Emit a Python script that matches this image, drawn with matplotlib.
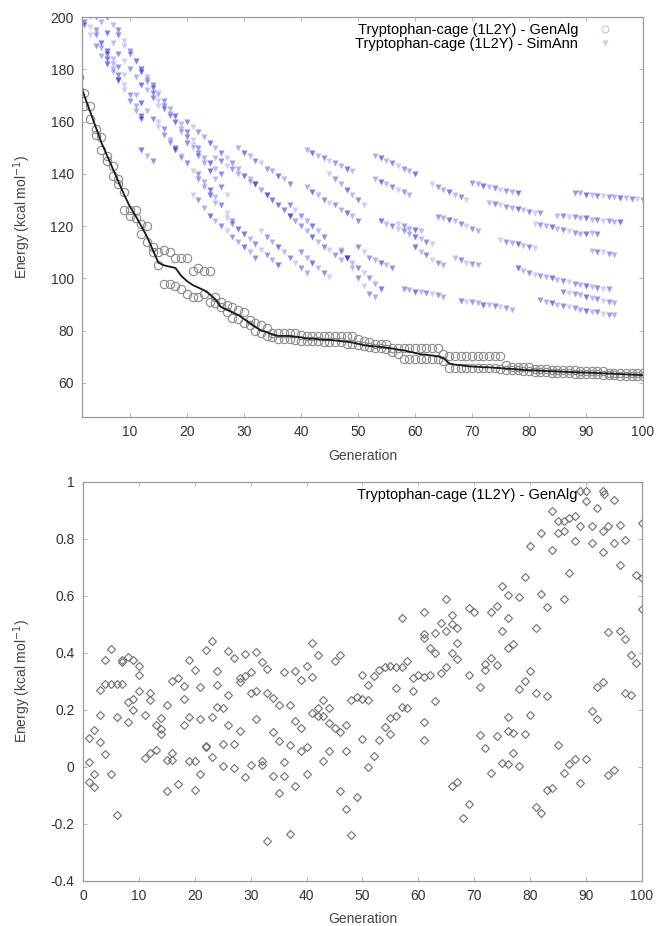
import numpy as np
import matplotlib.pyplot as plt
from matplotlib.lines import Line2D

plt.rcParams['font.family'] = ['Liberation Sans', 'DejaVu Sans']

# ---- top panel: GenAlg population (two circles per generation) and its mean line
gens = np.arange(1, 101)
ga_line = [176, 170, 164, 158, 152, 147, 142, 137, 132, 127.5,
           124, 120, 116, 111, 106, 105, 104.5, 104, 101, 99,
           97.5, 96.5, 95.5, 94, 92, 89, 88, 87, 86, 84.5,
           83, 81.5, 80, 79.5, 78.5, 78, 78, 78, 77.7, 77.5,
           77, 77, 76.8, 76.5, 76.5, 76.3, 76, 75.8, 75.5, 75,
           74.5, 74.2, 74, 73.8, 73.5, 73.2, 72.8, 72.5, 72, 71.5,
           71, 70.8, 70.5, 70.2, 69.5, 67.5, 67, 66.8, 66.5, 66.3,
           66.2, 66, 66, 65.8, 65.7, 65.5, 65.4, 65.2, 65, 64.9,
           64.8, 64.7, 64.6, 64.5, 64.4, 64.3, 64.2, 64.1, 64, 64,
           63.9, 63.8, 63.7, 63.6, 63.5, 63.4, 63.3, 63.2, 63.1, 63]
ga_upper = [177, 171, 166, 157, 154, 147, 143, 138, 133, 126,
            126, 121, 120, 112, 110, 111, 110, 108, 108, 108,
            103, 104, 103, 103, 93, 91, 90, 89, 88, 87,
            84, 83, 82, 81, 79, 79, 79, 79, 79, 78.5,
            78, 78, 78, 78, 78, 78, 78, 78, 78, 77,
            76, 75.5, 75, 75, 75, 73.5, 73.5, 73.5, 73.5, 73.5,
            73.5, 73.5, 73.5, 73.5, 71, 70.5, 70.5, 70.5, 70.5, 70.5,
            70.5, 70.5, 70.5, 70.5, 70.5, 67, 66, 66, 66, 66,
            65.5, 65.5, 65.5, 65, 65, 65, 65, 65, 64.5, 64.5,
            64.5, 64.5, 64.5, 64, 64, 64, 64, 64, 64, 64]
ga_lower = [172, 166, 161, 155, 149, 145, 139, 136, 126, 124,
            123, 117, 114, 110, 105, 98, 98, 97, 96, 94,
            93, 93, 94, 91, 90.5, 89, 87, 85, 84.5, 83,
            82, 80, 79, 78, 77.5, 77, 77, 77, 76.5, 76,
            76, 76, 76, 75.5, 75.5, 75.5, 75.5, 75, 75, 74.5,
            74, 73.8, 73.5, 73.5, 73, 72, 71, 69, 69, 69,
            69, 69, 69, 69, 68.5, 65.7, 65.7, 65.7, 65.7, 65.7,
            65.7, 65.7, 65.7, 65.7, 65.5, 65, 64.8, 64.8, 64.5, 64.5,
            64.3, 64.3, 64.2, 64, 64, 63.8, 63.8, 63.6, 63.5, 63.5,
            63.4, 63.3, 63.2, 63, 63, 62.8, 62.8, 62.6, 62.5, 62.5]

# ---- top panel: SimAnn runs (first generation of each run, then one energy per generation)
sa_start = [1, 2, 3, 4, 5, 6, 8, 19, 11, 22, 13, 15, 27, 20, 31, 21, 25, 37,
            29, 41, 38, 47, 40, 41, 53, 45, 47, 50, 54, 57, 58, 68, 53, 63,
            64, 67, 70, 73, 85, 75, 91, 78, 81, 82, 88, 86, 12, 33, 60]
sa_runs = [
    [200, 198, 196, 193, 190, 187, 184, 181, 178],
    [197, 193, 189, 185, 182, 179, 176],
    [200, 195, 190, 186, 182, 178, 174, 170, 166, 162],
    [200, 198, 194, 190, 186, 183, 180, 177, 174, 172, 169, 166],
    [188, 184, 180, 176, 172, 168, 164, 161],
    [200, 197, 193, 189, 186, 183, 180, 177, 174, 171, 168, 165, 162, 159, 156, 153, 150],
    [195, 191, 187, 183, 179, 175, 171, 168, 165, 162],
    [156, 152, 150, 147, 144, 141, 138, 135, 132],
    [170, 167, 164, 161, 158, 155, 152, 149, 146],
    [140, 137, 134, 131, 128, 125, 122, 119],
    [176, 173, 170, 166, 163, 160, 157, 154, 151, 148, 146, 144, 142, 140],
    [160, 157, 153, 150, 147, 144, 141, 138, 135, 132, 129],
    [123, 121, 119, 117, 115, 113, 111, 109, 107, 105],
    [160, 158, 156, 154, 152, 150, 148, 146, 144, 142],
    [138, 136, 134, 132, 130, 128, 126, 124, 122],
    [132, 130, 127, 124, 122, 120, 118, 116, 114, 112, 110, 108],
    [146, 145, 143, 142, 140, 139, 137, 136, 134, 132, 130],
    [126, 124, 122, 120, 118, 116, 114, 112, 111, 109, 107],
    [150, 148, 147, 145, 144, 142, 141, 139, 138, 136],
    [135, 133, 132, 130, 129, 128, 126, 125, 124, 122],
    [128, 126, 124, 122, 120, 118, 116],
    [110, 108, 106, 104, 102, 100, 98, 96],
    [110, 108, 106, 104, 102, 100.5],
    [149, 148, 147, 146, 145, 144, 143, 142, 141],
    [138, 137, 136, 135, 134, 133, 132],
    [140, 138, 136, 134, 132, 130, 128],
    [111, 108, 104, 100, 97, 94, 93],
    [112, 110, 108, 107, 106, 105, 104],
    [122, 121, 120, 119, 118, 117, 116, 115, 114, 113],
    [121, 120, 119, 118.5, 118],
    [96, 95.5, 95, 95, 94.5, 94, 93.5, 93],
    [91.5, 91, 91, 90.5, 90, 90, 89.5, 89, 88.5, 88],
    [147, 146, 145, 144, 143, 142, 141, 140],
    [136, 135, 134, 133, 132, 131, 130],
    [123.5, 123, 122.5, 122, 121, 120, 119, 118],
    [108, 107, 106, 105.5, 105],
    [136.5, 136, 135.5, 135, 134.5, 134, 133.5, 133, 132.5],
    [129, 128.5, 128, 127.5, 127, 126.5, 126, 125.5, 125, 125],
    [124, 124, 123.5, 123.5, 123, 123, 122.5, 122.5, 122, 122, 121.5, 121.5],
    [114.7, 114, 113.5, 113, 112.5, 112, 111.6],
    [110.5, 110, 110, 109.5, 109],
    [104, 103, 102, 101.5, 101, 100.5, 100, 99.5, 99, 98.5, 98, 97.5, 97, 96.7, 96.5, 96, 95.8],
    [121, 120.5, 120, 119.5, 119, 118.5, 118, 117.5, 117, 117, 117.5, 117],
    [91.7, 91, 90.5, 90, 89.5, 89, 88.5, 88, 87.5, 87, 87, 86.5, 86, 86],
    [132.7, 132.5, 132, 132, 131.7, 131.5, 131.2, 131, 130.8, 130.6, 130.4, 130.2, 130],
    [95, 94.5, 94, 93.5, 93, 92.5, 92, 91.5, 91, 90.5],
    [149, 147, 145],
    [118, 116, 114, 112, 110, 108, 106, 104, 102],
    [112, 110, 109, 107, 106, 105],
]

# ---- bottom panel: GenAlg scatter
bot_gen = [5, 4, 7, 7, 8, 9, 10, 10, 3, 4, 5, 6, 7, 8, 9, 10, 9, 12, 12, 11,
           3, 6, 8, 2, 1, 3, 4, 1, 2, 5, 1, 2, 6, 15, 14, 13, 14, 14, 13, 12,
           11, 16, 15, 16, 17, 15, 16, 17, 18, 18, 19, 20, 21, 22, 23, 24, 24, 24, 25, 19,
           18, 21, 23, 22, 22, 23, 25, 25, 19, 20, 21, 20,
           26, 27, 29, 31, 32, 33, 30, 29, 28, 28, 26, 30, 31, 33, 34, 35, 37, 36, 38, 39,
           40, 41, 41, 42, 45, 46, 26, 28, 31, 27, 27, 29, 30, 32, 32, 34, 35, 37, 38, 39,
           39, 40, 36, 34, 36, 35, 38, 40, 33, 37, 41, 42, 43, 43, 44, 42, 44, 45, 46, 47,
           44, 43, 47, 46, 47, 49, 48, 50, 48, 49, 50, 50,
           57, 61, 65, 69, 70, 73, 74, 75, 76, 76, 66, 64, 63, 65, 66, 67, 75, 61, 61, 62,
           63, 66, 67, 67, 65, 64, 72, 73, 74, 71, 72, 69, 62, 61, 59, 60, 58, 57, 56, 55,
           54, 53, 52, 51, 51, 56, 59, 57, 58, 63, 61, 61, 56, 55, 54, 55, 53, 52, 51, 71,
           72, 74, 73, 75, 76, 66, 67, 69, 68,
           89, 90, 93, 95, 90, 92, 84, 85, 86, 87, 88, 86, 85, 82, 89, 91, 93, 94, 96, 88,
           91, 93, 95, 97, 80, 84, 96, 100, 99, 100, 100, 87, 79, 78, 82, 86, 83, 81, 94, 96,
           97, 98, 99, 77, 76, 80, 79, 78, 81, 83, 92, 93, 97, 98, 76, 80, 76, 77, 79, 91,
           92, 77, 78, 85, 87, 88, 90, 86, 89, 83, 84, 94, 95, 81, 82]
bot_energy = [0.415, 0.376, 0.376, 0.37, 0.385, 0.376, 0.353, 0.322, 0.271, 0.29,
              0.29, 0.29, 0.29, 0.228, 0.24, 0.266, 0.199, 0.259, 0.235, 0.183,
              0.183, 0.174, 0.157, 0.131, 0.102, 0.088, 0.046, 0.018, -0.025, -0.025,
              -0.053, -0.071, -0.17, 0.216, 0.172, 0.148, 0.134, 0.116, 0.061, 0.05,
              0.032, 0.05, 0.025, 0.025, -0.06, -0.085, 0.303, 0.312, 0.283, 0.24,
              0.376, 0.341, 0.279, 0.412, 0.443, 0.336, 0.287, 0.212, 0.207, 0.174,
              0.148, 0.169, 0.174, 0.073, 0.07, 0.035, 0.08, 0.002, 0.022, 0.022,
              -0.025, -0.08,
              0.408, 0.382, 0.396, 0.405, 0.368, 0.344, 0.333, 0.318, 0.312, 0.298,
              0.251, 0.258, 0.267, 0.26, 0.243, 0.216, 0.216, 0.333, 0.338, 0.306,
              0.353, 0.315, 0.435, 0.392, 0.371, 0.394, 0.148, 0.125, 0.169, 0.082,
              -0.004, -0.036, 0.008, 0.022, 0.008, 0.123, 0.09, 0.078, 0.162, 0.137,
              0.055, 0.069, 0.018, -0.033, -0.033, -0.091, -0.068, -0.025, -0.259, -0.235,
              0.19, 0.18, 0.18, 0.236, 0.207, 0.207, 0.154, 0.137, 0.123, 0.148,
              0.057, 0.022, 0.055, -0.085, -0.146, -0.106, -0.237, 0.097, 0.236, 0.247,
              0.24, 0.323,
              0.523, 0.544, 0.588, 0.558, 0.544, 0.544, 0.565, 0.635, 0.605, 0.523,
              0.535, 0.506, 0.471, 0.477, 0.5, 0.486, 0.477, 0.465, 0.453, 0.418,
              0.401, 0.401, 0.436, 0.378, 0.35, 0.33, 0.363, 0.381, 0.358, 0.279,
              0.339, 0.322, 0.322, 0.316, 0.312, 0.322, 0.371, 0.351, 0.351, 0.356,
              0.351, 0.342, 0.318, 0.288, 0.234, 0.276, 0.268, 0.21, 0.207, 0.233,
              0.157, 0.095, 0.18, 0.171, 0.139, 0.116, 0.096, 0.037, -0.001, 0.113,
              0.066, 0.107, -0.021, 0.014, 0.01, -0.066, -0.052, -0.13, -0.18,
              0.967, 0.967, 0.967, 0.938, 0.932, 0.909, 0.897, 0.864, 0.862, 0.874,
              0.88, 0.829, 0.821, 0.821, 0.845, 0.845, 0.827, 0.845, 0.85, 0.792,
              0.786, 0.756, 0.786, 0.797, 0.774, 0.762, 0.707, 0.856, 0.674, 0.663,
              0.553, 0.681, 0.665, 0.595, 0.607, 0.59, 0.56, 0.487, 0.474, 0.478,
              0.45, 0.394, 0.365, 0.43, 0.416, 0.336, 0.301, 0.275, 0.26, 0.249,
              0.28, 0.298, 0.26, 0.254, 0.174, 0.184, 0.125, 0.119, 0.116, 0.195,
              0.168, 0.049, 0.005, 0.078, 0.01, 0.029, 0.029, -0.021, -0.057, -0.079,
              -0.073, -0.029, -0.011, -0.14, -0.16]

label_ga = 'Tryptophan-cage (1L2Y) - GenAlg'
label_sa = 'Tryptophan-cage (1L2Y) - SimAnn'
ylab = 'Energy (kcal mol$^{-1}$)'

fig = plt.figure(figsize=(6.59, 9.26), dpi=100)
ax1 = fig.add_axes([0.1244, 0.5497, 0.8513, 0.4319])
ax2 = fig.add_axes([0.126, 0.0486, 0.848, 0.4309])

# faded blue triangles, shade varies along each run like the scanned original
shades = [0.6, 0.3, 0.5, 0.22, 0.45, 0.35]
for start, vals in zip(sa_start, sa_runs):
    for k, v in enumerate(vals):
        ax1.plot(start + k, v, 'v', color='#2020e6', alpha=shades[(start + k) % 6],
                 ms=5, mec='none')

ax1.plot(gens, ga_upper, 'o', mfc='none', mec='#8a8a8a', ms=6, mew=0.8)
ax1.plot(gens, ga_lower, 'o', mfc='none', mec='#8a8a8a', ms=6, mew=0.8)
ax1.plot(gens, ga_line, '-', color='#1a1a1a', lw=1.3)

ax1.set_xlim(1.6, 100)
ax1.set_ylim(47, 200)
ax1.set_xticks(np.arange(10, 101, 10))
ax1.set_yticks(np.arange(60, 201, 20))

h_ga = Line2D([], [], ls='none', marker='o', mfc='none', mec='#c8c8c8', ms=5, mew=0.8)
h_sa = Line2D([], [], ls='none', marker='v', color='#c8c8f0', ms=5, mec='none')
ax1.legend([h_ga, h_sa], [label_ga, label_sa], loc='upper right',
           bbox_to_anchor=(0.955, 1.0), frameon=False, markerfirst=False,
           fontsize=10.5, handlelength=1.0, handletextpad=1.3,
           labelspacing=0.0, borderaxespad=0.2, borderpad=0.2)

ax2.plot(bot_gen, bot_energy, 'D', mfc='none', mec='#6e6e6e', ms=4.2, mew=0.8)
ax2.set_xlim(0, 100)
ax2.set_ylim(-0.4, 1.0)
ax2.set_xticks(np.arange(0, 101, 10))
yt = [-0.4, -0.2, 0, 0.2, 0.4, 0.6, 0.8, 1.0]
ax2.set_yticks(yt)
ax2.set_yticklabels(['-0.4', '-0.2', '0', '0.2', '0.4', '0.6', '0.8', '1'])
h_d = Line2D([], [], ls='none', marker='D', mfc='none', mec='#6e6e6e', ms=4.2, mew=0.8)
ax2.legend([h_d], [label_ga], loc='upper right', bbox_to_anchor=(0.955, 1.0),
           frameon=False, markerfirst=False, fontsize=10.5, handlelength=1.0,
           handletextpad=1.3, borderaxespad=0.2, borderpad=0.2)

for ax in (ax1, ax2):
    ax.tick_params(direction='in', top=True, right=True, length=3, width=0.6,
                   color='#aaaaaa', labelsize=10, labelcolor='#333333', pad=6)
    for s in ax.spines.values():
        s.set_color('#999999')
        s.set_linewidth(0.9)
    ax.set_xlabel('Generation', fontsize=10, color='#444444', va='center')
    ax.set_ylabel(ylab, fontsize=10, color='#444444', va='center')

ax1.xaxis.set_label_coords(0.5, -0.0975)
ax1.yaxis.set_label_coords(-0.107, 0.5)
ax2.xaxis.set_label_coords(0.5, -0.095)
ax2.yaxis.set_label_coords(-0.109, 0.5)

fig.savefig('out.png', dpi=100)
